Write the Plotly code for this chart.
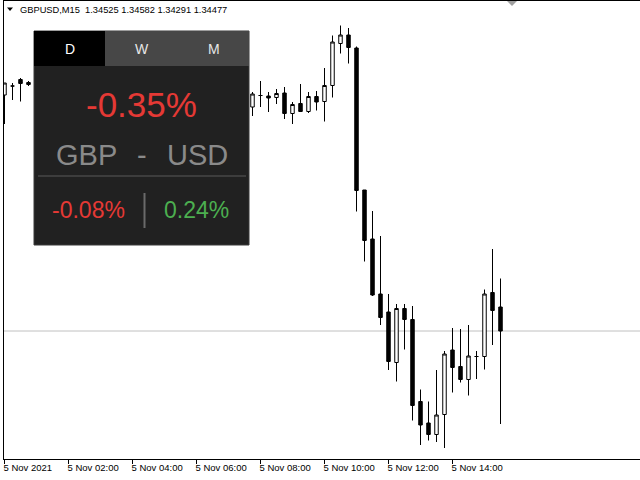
import pandas as pd
import plotly.graph_objects as go

# ---------------- data ----------------
day = "2021-11-05"
times = ["00:00", "00:15", "00:30", "00:45",
         "07:45", "08:00", "08:15", "08:30", "08:45", "09:00", "09:15", "09:30",
         "09:45", "10:00", "10:15", "10:30", "10:45", "11:00", "11:15", "11:30",
         "11:45", "12:00", "12:15", "12:30", "12:45", "13:00", "13:15", "13:30",
         "13:45", "14:00", "14:15", "14:30", "14:45", "15:00", "15:15", "15:30"]
opens = [1.34949, 1.34967, 1.34980, 1.34974,
         1.34925, 1.34948, 1.34947, 1.34944, 1.34953, 1.34912, 1.34932, 1.34916,
         1.34946, 1.34936, 1.34968, 1.35052, 1.35069, 1.35043, 1.34759, 1.34661,
         1.34551, 1.34515, 1.34414, 1.34522, 1.34500, 1.34336, 1.34293, 1.34270,
         1.34310, 1.34439, 1.34406, 1.34380, 1.34426, 1.34426, 1.34554, 1.34525]
highs = [1.34973, 1.34973, 1.34983, 1.34977,
         1.34955, 1.34977, 1.34955, 1.34961, 1.34965, 1.34935, 1.34971, 1.34955,
         1.34957, 1.35003, 1.35068, 1.35088, 1.35083, 1.35046, 1.34759, 1.34717,
         1.34667, 1.34551, 1.34531, 1.34531, 1.34527, 1.34360, 1.34336, 1.34399,
         1.34437, 1.34483, 1.34481, 1.34489, 1.34437, 1.34560, 1.34641, 1.34582]
lows = [1.34891, 1.34939, 1.34936, 1.34967,
        1.34907, 1.34925, 1.34915, 1.34931, 1.34901, 1.34891, 1.34916, 1.34913,
        1.34918, 1.34896, 1.34944, 1.35032, 1.35012, 1.34716, 1.34616, 1.34547,
        1.34489, 1.34399, 1.34376, 1.34440, 1.34298, 1.34249, 1.34258, 1.34255,
        1.34243, 1.34354, 1.34374, 1.34348, 1.34381, 1.34400, 1.34449, 1.34291]
closes = [1.34973, 1.34967, 1.34972, 1.34970,
          1.34951, 1.34948, 1.34943, 1.34952, 1.34912, 1.34930, 1.34916, 1.34946,
          1.34935, 1.34968, 1.35055, 1.35069, 1.35044, 1.34758, 1.34658, 1.34549,
          1.34504, 1.34416, 1.34522, 1.34500, 1.34328, 1.34289, 1.34270, 1.34309,
          1.34431, 1.34404, 1.34380, 1.34427, 1.34426, 1.34551, 1.34518, 1.34477]
bid = 1.34477

tick_times = ["00:00", "02:00", "04:00", "06:00", "08:00", "10:00", "12:00", "14:00"]
tick_labels = ["5 Nov 2021", "5 Nov 02:00", "5 Nov 04:00", "5 Nov 06:00",
               "5 Nov 08:00", "5 Nov 10:00", "5 Nov 12:00", "5 Nov 14:00"]

symbol = "GBPUSD,M15"
tabs = ["D", "W", "M"]
base_cur, quote_cur = "GBP", "USD"
pair_change = "-0.35%"
base_change = "-0.08%"
quote_change = "0.24%"

# ---------------- layout helpers ----------------
W, H = 640, 480
L, R, T, B = 4, 0, 1, 21
PW, PH = W - L - R, H - T - B


def px(x):
    return (x - L) / PW


def py(y):
    return 1 - (y - T) / PH


xs = pd.to_datetime([f"{day} {t}" for t in times])
x0 = pd.Timestamp(f"{day} 00:00") - pd.Timedelta(seconds=56.25)
x1 = pd.Timestamp(f"{day} 00:00") + pd.Timedelta(minutes=15 * 79.4375)

fig = go.Figure()
fig.add_trace(go.Candlestick(
    x=xs, open=opens, high=highs, low=lows, close=closes,
    increasing=dict(fillcolor="#ffffff", line=dict(color="#000000", width=1)),
    decreasing=dict(fillcolor="#000000", line=dict(color="#000000", width=1)),
    whiskerwidth=0, showlegend=False, hoverinfo="skip",
))

FONT = "Liberation Sans, Arial, sans-serif"
shapes = []
annotations = []

# bid line
shapes.append(dict(type="line", xref="paper", yref="y", x0=0, x1=1, y0=bid, y1=bid,
                   line=dict(color="#c0c0c0", width=1), layer="below"))

# header triangle + text
shapes.append(dict(type="path", xref="paper", yref="paper",
                   path=f"M {px(7)},{py(7.5)} L {px(13)},{py(7.5)} L {px(10)},{py(11)} Z",
                   fillcolor="#000000", line=dict(width=0), layer="above"))
header = f"{symbol}  {opens[-1]:.5f} {highs[-1]:.5f} {lows[-1]:.5f} {closes[-1]:.5f}"
annotations.append(dict(text=header, xref="paper", yref="paper", x=px(18), y=py(9.5),
                        xanchor="left", yanchor="middle", showarrow=False,
                        font=dict(family=FONT, size=9.3, color="#000000")))

# chart shift marker top right
shapes.append(dict(type="path", xref="paper", yref="paper",
                   path=f"M {px(507)},{py(1)} L {px(517)},{py(1)} L {px(512)},{py(6)} Z",
                   fillcolor="#a0a0a0", line=dict(width=0), layer="above"))

# ---- panel ----
PX0, PX1, PY0, PY1 = 34, 249, 31, 245
TAB_Y1 = 66
shapes.append(dict(type="rect", xref="paper", yref="paper",
                   x0=px(PX0), x1=px(PX1), y0=py(PY1), y1=py(PY0),
                   fillcolor="#212121", line=dict(color="#3a3a3a", width=1), layer="above"))
tab_edges = [34, 105, 178, 249]
tab_fill = ["#000000", "#474747", "#474747"]
tab_text = ["#ffffff", "#e6e6e6", "#e6e6e6"]
for i, t in enumerate(tabs):
    shapes.append(dict(type="rect", xref="paper", yref="paper",
                       x0=px(tab_edges[i]), x1=px(tab_edges[i + 1]), y0=py(TAB_Y1), y1=py(PY0),
                       fillcolor=tab_fill[i], line=dict(width=0), layer="above"))
    annotations.append(dict(text=t, xref="paper", yref="paper",
                            x=px((tab_edges[i] + tab_edges[i + 1]) / 2), y=py(49),
                            xanchor="center", yanchor="middle", showarrow=False,
                            font=dict(family=FONT, size=14, color=tab_text[i])))

annotations.append(dict(text=pair_change, xref="paper", yref="paper", x=px(141), y=py(104),
                        xanchor="center", yanchor="middle", showarrow=False,
                        font=dict(family=FONT, size=35, color="#e53935")))
for txt, cx in [(base_cur, 86), ("-", 141.5), (quote_cur, 197)]:
    annotations.append(dict(text=txt, xref="paper", yref="paper", x=px(cx), y=py(155),
                            xanchor="center", yanchor="middle", showarrow=False,
                            font=dict(family=FONT, size=29, color="#8a8a8a")))
shapes.append(dict(type="line", xref="paper", yref="paper",
                   x0=px(38), x1=px(246), y0=py(176), y1=py(176),
                   line=dict(color="#5a5a5a", width=1), layer="above"))
shapes.append(dict(type="line", xref="paper", yref="paper",
                   x0=px(144.5), x1=px(144.5), y0=py(193), y1=py(228),
                   line=dict(color="#6a6a6a", width=2), layer="above"))
annotations.append(dict(text=base_change, xref="paper", yref="paper", x=px(88.5), y=py(210),
                        xanchor="center", yanchor="middle", showarrow=False,
                        font=dict(family=FONT, size=23, color="#e53935")))
annotations.append(dict(text=quote_change, xref="paper", yref="paper", x=px(196), y=py(210),
                        xanchor="center", yanchor="middle", showarrow=False,
                        font=dict(family=FONT, size=23, color="#4caf50")))

fig.update_layout(
    width=W, height=H,
    margin=dict(l=L, r=R, t=T, b=B, pad=0),
    paper_bgcolor="#ffffff", plot_bgcolor="#ffffff",
    boxgap=0.38,
    shapes=shapes, annotations=annotations,
    xaxis=dict(
        type="date", range=[x0, x1], rangeslider=dict(visible=False),
        tickvals=pd.to_datetime([f"{day} {t}" for t in tick_times]), ticktext=tick_labels,
        ticks="outside", ticklen=4, tickcolor="#000000", tickwidth=1,
        ticklabelposition="outside right", ticklabelshift=-2,
        tickfont=dict(family=FONT, size=9.5, color="#000000"),
        showgrid=False, zeroline=False,
        showline=True, linecolor="#000000", linewidth=1, mirror=True,
    ),
    yaxis=dict(
        range=[1.34221, 1.35137], showticklabels=False, ticks="",
        showgrid=False, zeroline=False,
        showline=True, linecolor="#000000", linewidth=1, mirror=True,
    ),
    hovermode=False,
)

fig.write_html(
    "out.html",
    config={"displayModeBar": False, "staticPlot": True},
    post_script="document.body.style.margin='0';document.body.style.overflow='hidden';",
)
